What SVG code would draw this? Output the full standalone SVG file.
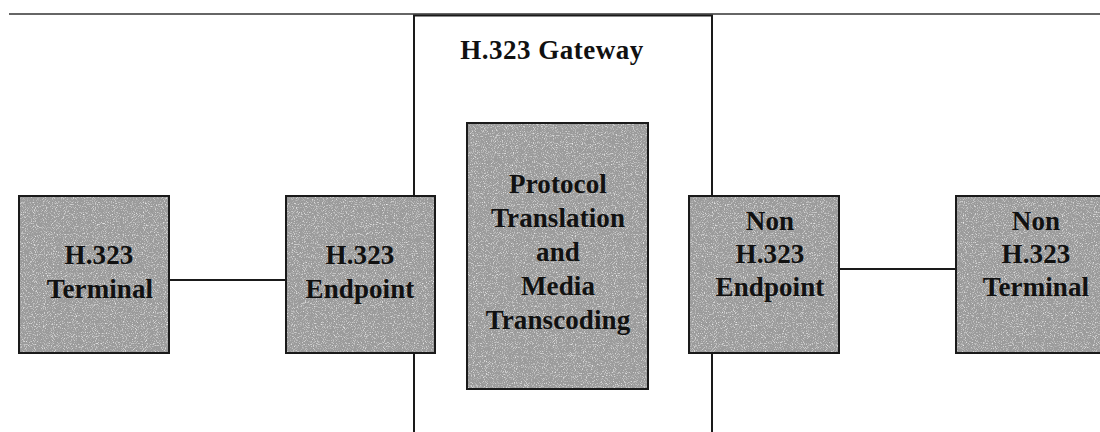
<svg xmlns="http://www.w3.org/2000/svg" width="1100" height="432" viewBox="0 0 1100 432">
  <defs>
    <!-- fine speckle for the grey box fills -->
    <filter id="grain" x="0" y="0" width="100%" height="100%">
      <feTurbulence type="fractalNoise" baseFrequency="0.9" numOctaves="2" seed="7" result="noise"/>
      <feColorMatrix in="noise" type="matrix" values="0 0 0 0 1  0 0 0 0 1  0 0 0 0 1  2.2 0 0 0 -1.15" result="speck"/>
      <feComposite in="speck" in2="SourceGraphic" operator="in" result="clip"/>
      <feComposite in="clip" in2="SourceGraphic" operator="over"/>
    </filter>
    <style>
      .fill { fill: #9b9b9b; stroke: none; filter: url(#grain); }
      .edge { fill: none; stroke: #1a1a1a; stroke-width: 2; }
      .wire { fill: none; stroke: #1a1a1a; stroke-width: 2; }
      .rule { fill: none; stroke: #333333; stroke-width: 1.6; }
      .label { font-family: "Liberation Serif", "Times New Roman", serif; font-weight: bold; font-size: 27px; letter-spacing: 0.1px; fill: #111111; text-anchor: middle; }
    </style>
  </defs>

  <rect x="0" y="0" width="1100" height="432" fill="#ffffff"/>

  <!-- page rule -->
  <line class="rule" x1="9" y1="14" x2="1100" y2="14"/>

  <!-- gateway enclosure -->
  <g id="gateway">
    <path class="edge" d="M414,440 V15.5 H712 V440"/>
    <text class="label" x="552" y="59" style="letter-spacing:0.5px">H.323 Gateway</text>
  </g>

  <!-- connectors -->
  <g id="connectors">
    <line class="wire" x1="169" y1="280" x2="286" y2="280"/>
    <line class="wire" x1="839" y1="269" x2="956" y2="269"/>
  </g>

  <g id="h323-terminal">
    <rect class="fill" x="19" y="196" width="150" height="157"/>
    <rect class="edge" x="19" y="196" width="150" height="157"/>
    <text class="label" x="99" y="264">H.323</text>
    <text class="label" x="100" y="298">Terminal</text>
  </g>

  <g id="h323-endpoint">
    <rect class="fill" x="286" y="196" width="149" height="157"/>
    <rect class="edge" x="286" y="196" width="149" height="157"/>
    <text class="label" x="360" y="264">H.323</text>
    <text class="label" x="360" y="298">Endpoint</text>
  </g>

  <g id="translation">
    <rect class="fill" x="467" y="123" width="181" height="266"/>
    <rect class="edge" x="467" y="123" width="181" height="266"/>
    <text class="label" x="558" y="193">Protocol</text>
    <text class="label" x="558" y="227">Translation</text>
    <text class="label" x="558" y="261">and</text>
    <text class="label" x="558" y="295">Media</text>
    <text class="label" x="558" y="329">Transcoding</text>
  </g>

  <g id="non-h323-endpoint">
    <rect class="fill" x="689" y="196" width="150" height="157"/>
    <rect class="edge" x="689" y="196" width="150" height="157"/>
    <text class="label" x="770" y="230">Non</text>
    <text class="label" x="770" y="263">H.323</text>
    <text class="label" x="770" y="296">Endpoint</text>
  </g>

  <g id="non-h323-terminal">
    <rect class="fill" x="956" y="196" width="160" height="157"/>
    <rect class="edge" x="956" y="196" width="160" height="157"/>
    <text class="label" x="1036" y="230">Non</text>
    <text class="label" x="1036" y="263">H.323</text>
    <text class="label" x="1036" y="296">Terminal</text>
  </g>
</svg>
